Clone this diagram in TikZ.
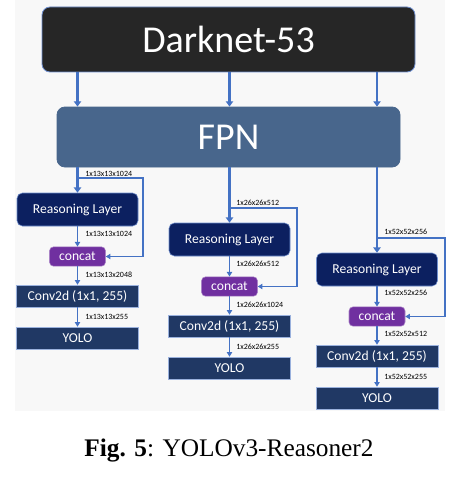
\documentclass[tikz,border=0pt]{standalone}
\usepackage{fontspec}
\setmainfont{Carlito}
\newfontfamily\capfont{Liberation Serif}
\usetikzlibrary{arrows.meta}
\definecolor{darkgrey}{HTML}{262626}
\definecolor{fpnblue}{HTML}{48668C}
\definecolor{rsnblue}{HTML}{0C2060}
\definecolor{catpurple}{HTML}{7030A0}
\definecolor{outblue}{HTML}{203864}
\definecolor{arrowblue}{HTML}{4472C4}
\definecolor{edgeblue}{HTML}{6F8FCF}
\definecolor{panelgrey}{HTML}{F8F8F8}

\begin{document}
\begin{tikzpicture}[x=0.75pt,y=0.75pt,yscale=-1,xscale=1,
  blk/.style={text=white,inner sep=0pt,align=center},
  bigbox/.style={blk,rounded corners=6pt,draw=edgeblue,line width=0.6pt,font=\fontsize{28.5}{30}\selectfont},
  rsnbox/.style={blk,rounded corners=4pt,fill=rsnblue,draw=edgeblue,line width=0.4pt,minimum width=90.75pt,minimum height=24.75pt,font=\fontsize{10.2}{12}\selectfont},
  catbox/.style={blk,rounded corners=3pt,fill=catpurple,draw=catpurple!60,line width=0.4pt,minimum width=42pt,minimum height=14.5pt,font=\fontsize{10.2}{12}\selectfont},
  outbox/.style={blk,fill=outblue,draw=edgeblue!70,line width=0.4pt,minimum width=91.5pt,minimum height=16.5pt,font=\fontsize{10.2}{12}\selectfont},
  dim/.style={anchor=west,inner sep=0pt,font=\fontsize{6}{7}\selectfont},
  thk/.style={draw=arrowblue,line width=2pt,-{Triangle[width=5.5pt,length=4pt]}},
  thn/.style={draw=arrowblue,line width=1pt,-{Triangle[width=4pt,length=3.5pt]}},
]
\useasboundingbox (0,0) rectangle (458,485);
\fill[panelgrey] (15,0) rectangle (445,411);

\node[bigbox,fill=darkgrey,minimum width=279.75pt,minimum height=48.75pt] (dark) at (228.5,39.5) {Darknet-53};
\node[bigbox,fill=fpnblue,draw=fpnblue,minimum width=257.25pt,minimum height=45pt] (fpn) at (228.5,137) {FPN};

\node[rsnbox] (rsnA) at (77.5,209.5) {Reasoning Layer};
\node[catbox] (catA) at (77.5,256.5) {concat};
\node[outbox] (convA) at (77.5,296) {Conv2d (1x1, 255)};
\node[outbox] (yoloA) at (77.5,338) {YOLO};

\node[rsnbox] (rsnB) at (229.5,239.5) {Reasoning Layer};
\node[catbox] (catB) at (229.5,286.5) {concat};
\node[outbox] (convB) at (229.5,326) {Conv2d (1x1, 255)};
\node[outbox] (yoloB) at (229.5,368) {YOLO};

\node[rsnbox] (rsnC) at (377,269.5) {Reasoning Layer};
\node[catbox] (catC) at (377,316.5) {concat};
\node[outbox] (convC) at (377,356) {Conv2d (1x1, 255)};
\node[outbox] (yoloC) at (377,398) {YOLO};

\draw[thk] (dark.south -| rsnA.north) -- (fpn.north -| rsnA.north);
\draw[thk] (dark.south -| rsnB.north) -- (fpn.north -| rsnB.north);
\draw[thk] (dark.south -| rsnC.north) -- (fpn.north -| rsnC.north);

\draw[thk] (fpn.south -| rsnA.north) -- (rsnA.north);
\draw[thk] (fpn.south -| rsnB.north) -- (rsnB.north);
\draw[thk] (fpn.south -| rsnC.north) -- (rsnC.north);

\coordinate (tapA) at (77.5,178);
\coordinate (turnA) at (143,178);
\coordinate (tapB) at (229.5,208);
\coordinate (turnB) at (297,208);
\coordinate (tapC) at (377,238);
\coordinate (turnC) at (445,238);
\draw[thn] (tapA) -- (turnA) |- (catA.east);
\draw[thn] (tapB) -- (turnB) |- (catB.east);
\draw[thn] (tapC) -- (turnC) |- (catC.east);

\draw[thn] (rsnA) -- (catA);
\draw[thn] (catA) -- (convA);
\draw[thn] (convA) -- (yoloA);
\draw[thn] (rsnB) -- (catB);
\draw[thn] (catB) -- (convB);
\draw[thn] (convB) -- (yoloB);
\draw[thn] (rsnC) -- (catC);
\draw[thn] (catC) -- (convC);
\draw[thn] (convC) -- (yoloC);

\node[dim] (dA1) at (85,174) {1x13x13x1024};
\node[dim] (dA2) at (85,234) {1x13x13x1024};
\node[dim] (dA3) at (85,275) {1x13x13x2048};
\node[dim] (dA4) at (85,317) {1x13x13x255};
\node[dim] (dB1) at (236,203) {1x26x26x512};
\node[dim] (dB2) at (236,264) {1x26x26x512};
\node[dim] (dB3) at (236,305) {1x26x26x1024};
\node[dim] (dB4) at (236,347) {1x26x26x255};
\node[dim] (dC1) at (384,232) {1x52x52x256};
\node[dim] (dC2) at (384,293) {1x52x52x256};
\node[dim] (dC3) at (384,334) {1x52x52x512};
\node[dim] (dC4) at (384,377) {1x52x52x255};

\node[inner sep=0pt,font=\capfont\fontsize{19}{22}\selectfont] (cap) at (229,451) {\textbf{Fig. 5}: YOLOv3-Reasoner2};
\end{tikzpicture}
\end{document}
